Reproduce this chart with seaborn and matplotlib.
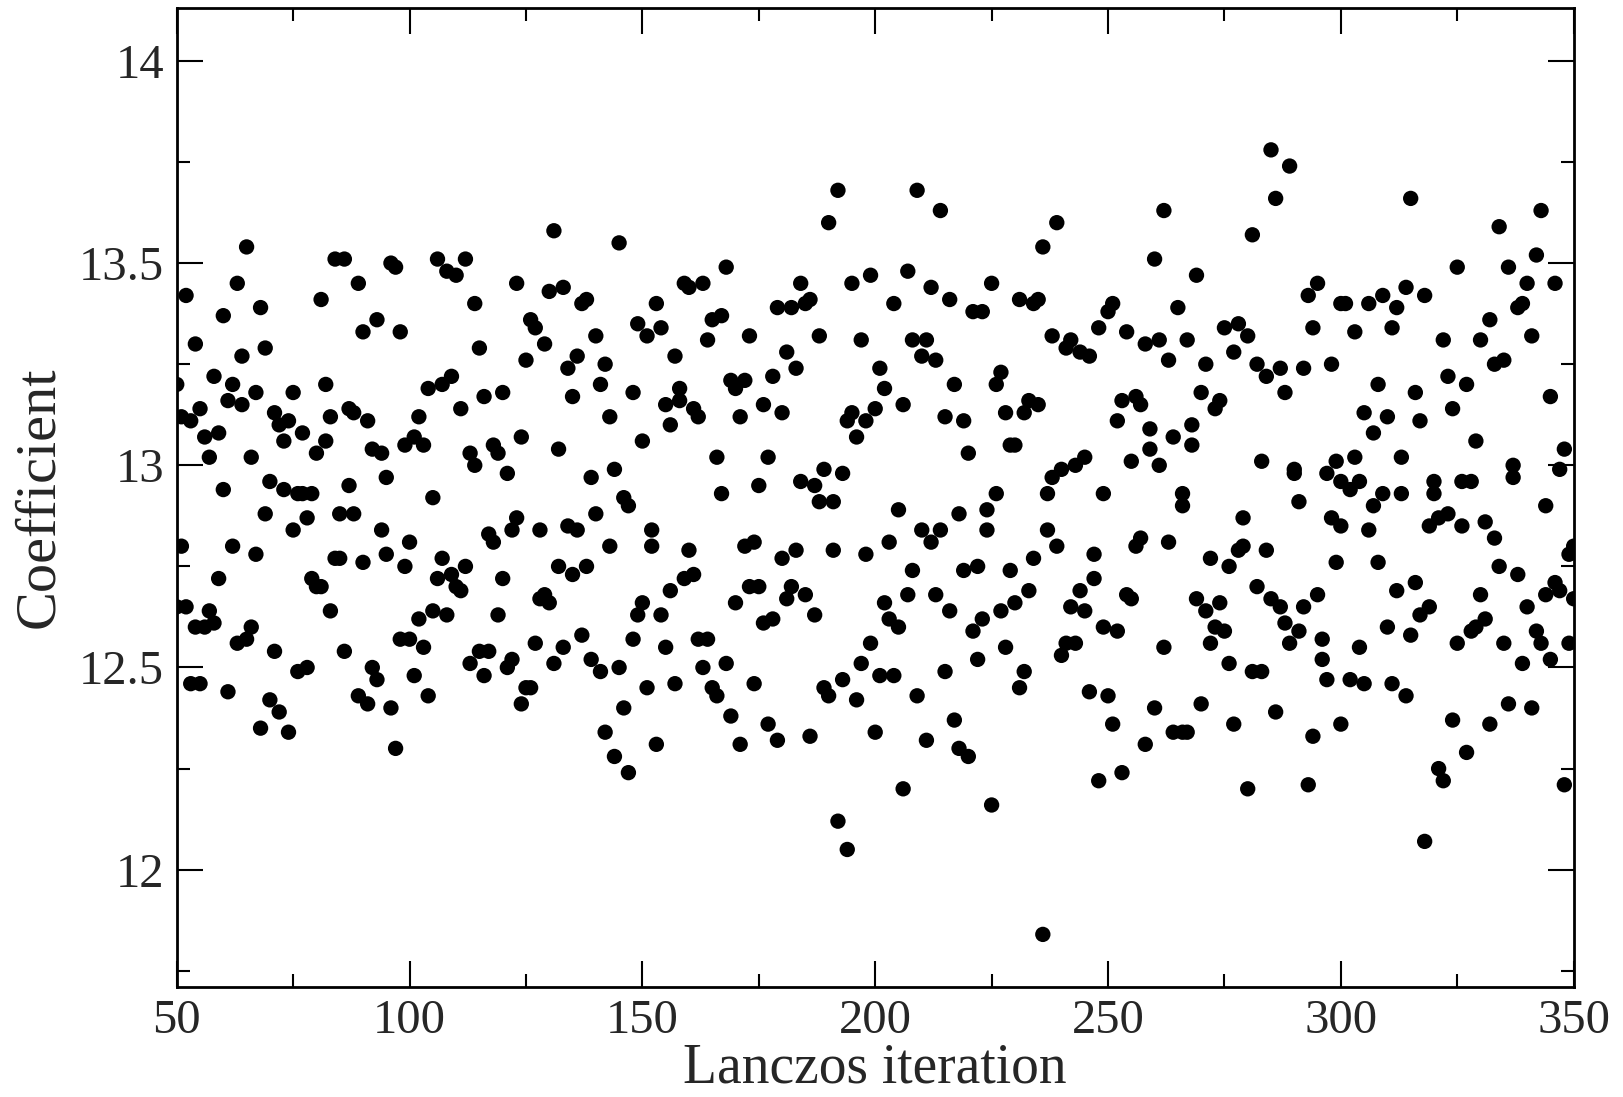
import matplotlib
matplotlib.use("Agg")
import matplotlib.pyplot as plt
from matplotlib.ticker import MultipleLocator
import seaborn as sns
import pandas as pd

# Lanczos iteration index of each point
iteration = [
    65, 63, 52, 60, 68, 54, 69, 64, 50, 58, 62, 75, 67, 61, 55, 64, 51, 53, 71, 72, 74, 73, 56, 59, 57, 66,
    70, 60, 73, 69, 75, 62, 51, 67, 59, 50, 52, 57, 54, 56, 58, 66, 63, 65, 71, 53, 55, 61, 70, 72, 68, 74,
    84, 86, 96, 97, 89, 81, 93, 90, 98, 82, 87, 88, 83, 91, 77, 82, 80, 92, 94, 99, 87, 95, 76, 77, 79, 78,
    85, 88, 94, 84, 85, 90, 95, 100, 99, 79, 80, 81, 83, 86, 98, 100, 76, 78, 92, 93, 89, 91, 96, 97,
    106, 108, 110, 112, 123, 114, 115, 125, 109, 104, 107, 116, 120, 111, 102, 101, 103, 113, 114, 118, 119,
    121, 124, 105, 107, 106, 109, 112, 110, 111, 117, 118, 122, 123, 120, 102, 105, 108, 119, 103, 101, 104,
    113, 115, 117, 116, 121, 122, 125, 124,
    131, 145, 130, 133, 137, 138, 126, 127, 129, 140, 134, 136, 142, 141, 135, 143, 149, 148, 132, 150, 139,
    144, 146, 147, 128, 134, 136, 140, 143, 132, 135, 138, 128, 129, 130, 150, 149, 127, 133, 131, 137, 139,
    141, 145, 148, 126, 146, 142, 144, 147,
    168, 159, 160, 163, 153, 151, 154, 165, 167, 164, 173, 157, 158, 158, 155, 156, 161, 162, 169, 170, 172,
    171, 166, 167, 175, 152, 152, 160, 159, 161, 172, 174, 156, 154, 173, 175, 170, 155, 162, 164, 163, 168,
    151, 157, 165, 166, 169, 174, 153, 171,
    192, 190, 195, 199, 184, 179, 182, 185, 186, 188, 197, 181, 183, 178, 176, 180, 194, 195, 198, 196, 200,
    177, 184, 187, 189, 188, 191, 193, 180, 183, 191, 198, 182, 181, 185, 187, 176, 178, 199, 197, 189, 190,
    193, 196, 177, 179, 186, 200, 192, 194,
    209, 214, 207, 212, 216, 204, 221, 223, 225, 208, 211, 210, 213, 201, 202, 217, 206, 215, 219, 220, 205,
    218, 224, 224, 210, 212, 214, 203, 208, 219, 222, 202, 207, 213, 216, 203, 205, 223, 221, 222, 201, 204,
    215, 209, 211, 217, 218, 220, 206, 225,
    239, 236, 231, 234, 235, 238, 241, 242, 244, 246, 248, 250, 227, 226, 233, 232, 235, 228, 229, 230, 226,
    238, 240, 243, 245, 237, 249, 229, 234, 237, 239, 247, 247, 227, 230, 233, 244, 242, 245, 249, 228, 232,
    231, 241, 243, 240, 246, 250, 248, 236,
    262, 260, 269, 251, 265, 254, 258, 261, 263, 267, 271, 275, 253, 256, 257, 252, 259, 259, 261, 255, 264,
    268, 268, 270, 273, 274, 266, 266, 256, 257, 263, 272, 254, 255, 252, 262, 269, 271, 274, 273, 275, 272,
    251, 260, 258, 264, 266, 267, 270, 253,
    285, 289, 286, 281, 295, 293, 300, 294, 278, 280, 277, 282, 284, 287, 292, 288, 298, 283, 290, 290, 291,
    297, 299, 300, 298, 300, 279, 278, 279, 276, 284, 299, 282, 285, 287, 288, 289, 292, 291, 295, 276, 296,
    296, 297, 281, 283, 277, 286, 294, 300, 280, 293,
    315, 325, 301, 306, 309, 312, 314, 318, 303, 311, 322, 308, 316, 323, 305, 310, 307, 317, 324, 303, 313,
    302, 304, 309, 307, 313, 320, 320, 319, 321, 323, 306, 308, 312, 316, 317, 319, 310, 315, 304, 325, 302,
    305, 311, 314, 324, 321, 322, 318,
    343, 334, 336, 342, 346, 340, 338, 339, 332, 341, 330, 333, 335, 327, 345, 329, 326, 328, 337, 337, 348,
    347, 344, 326, 331, 333, 334, 338, 349, 350, 330, 344, 346, 347, 350, 340, 328, 329, 331, 335, 342, 343,
    339, 345, 349, 336, 341, 332, 327, 348,
]

# Coefficient value of each point (same order)
coefficient = [
    13.54, 13.45, 13.42, 13.37, 13.39, 13.30, 13.29, 13.27, 13.20, 13.22, 13.20, 13.18, 13.18, 13.16, 13.14,
    13.15, 13.12, 13.11, 13.13, 13.10, 13.11, 13.06, 13.07, 13.08, 13.02, 13.02, 12.96, 12.94, 12.94, 12.88,
    12.84, 12.80, 12.80, 12.78, 12.72, 12.65, 12.65, 12.64, 12.60, 12.60, 12.61, 12.60, 12.56, 12.57, 12.54,
    12.46, 12.46, 12.44, 12.42, 12.39, 12.35, 12.34,
    13.51, 13.51, 13.50, 13.49, 13.45, 13.41, 13.36, 13.33, 13.33, 13.20, 13.14, 13.13, 13.12, 13.11, 13.08,
    13.06, 13.03, 13.04, 13.03, 13.05, 12.95, 12.97, 12.93, 12.93, 12.93, 12.87, 12.88, 12.88, 12.84, 12.77,
    12.77, 12.76, 12.78, 12.81, 12.75, 12.72, 12.70, 12.70, 12.64, 12.54, 12.57, 12.57, 12.49, 12.50, 12.50,
    12.47, 12.43, 12.41, 12.40, 12.30,
    13.51, 13.48, 13.47, 13.51, 13.45, 13.40, 13.29, 13.26, 13.22, 13.19, 13.20, 13.17, 13.18, 13.14, 13.12,
    13.07, 13.05, 13.03, 13.00, 13.05, 13.03, 12.98, 13.07, 12.92, 12.77, 12.72, 12.73, 12.75, 12.70, 12.69,
    12.83, 12.81, 12.84, 12.87, 12.72, 12.62, 12.64, 12.63, 12.63, 12.55, 12.48, 12.43, 12.51, 12.54, 12.54,
    12.48, 12.50, 12.52, 12.45, 12.41,
    13.58, 13.55, 13.43, 13.44, 13.40, 13.41, 13.36, 13.34, 13.30, 13.32, 13.24, 13.27, 13.25, 13.20, 13.17,
    13.12, 13.35, 13.18, 13.04, 13.06, 12.97, 12.99, 12.92, 12.90, 12.84, 12.85, 12.84, 12.88, 12.80, 12.75,
    12.73, 12.75, 12.67, 12.68, 12.66, 12.66, 12.63, 12.56, 12.55, 12.51, 12.58, 12.52, 12.49, 12.50, 12.57,
    12.45, 12.40, 12.34, 12.28, 12.24,
    13.49, 13.45, 13.44, 13.45, 13.40, 13.32, 13.34, 13.36, 13.37, 13.31, 13.32, 13.27, 13.19, 13.16, 13.15,
    13.10, 13.14, 13.12, 13.21, 13.19, 13.21, 13.12, 13.02, 12.93, 12.95, 12.84, 12.80, 12.79, 12.72, 12.73,
    12.80, 12.81, 12.69, 12.63, 12.70, 12.70, 12.66, 12.55, 12.57, 12.57, 12.50, 12.51, 12.45, 12.46, 12.45,
    12.43, 12.38, 12.46, 12.31, 12.31,
    13.68, 13.60, 13.45, 13.47, 13.45, 13.39, 13.39, 13.40, 13.41, 13.32, 13.31, 13.28, 13.24, 13.22, 13.15,
    13.13, 13.11, 13.13, 13.11, 13.07, 13.14, 13.02, 12.96, 12.95, 12.99, 12.91, 12.91, 12.98, 12.77, 12.79,
    12.79, 12.78, 12.70, 12.67, 12.68, 12.63, 12.61, 12.62, 12.56, 12.51, 12.45, 12.43, 12.47, 12.42, 12.36,
    12.32, 12.33, 12.34, 12.12, 12.05,
    13.68, 13.63, 13.48, 13.44, 13.41, 13.40, 13.38, 13.38, 13.45, 13.31, 13.31, 13.27, 13.26, 13.24, 13.19,
    13.20, 13.15, 13.12, 13.11, 13.03, 12.89, 12.88, 12.89, 12.84, 12.84, 12.81, 12.84, 12.81, 12.74, 12.74,
    12.75, 12.66, 12.68, 12.68, 12.64, 12.62, 12.60, 12.62, 12.59, 12.52, 12.48, 12.48, 12.49, 12.43, 12.32,
    12.37, 12.30, 12.28, 12.20, 12.16,
    13.60, 13.54, 13.41, 13.40, 13.41, 13.32, 13.29, 13.31, 13.28, 13.27, 13.34, 13.38, 13.23, 13.20, 13.16,
    13.13, 13.15, 13.13, 13.05, 13.05, 12.93, 12.97, 12.99, 13.00, 13.02, 12.93, 12.93, 12.74, 12.77, 12.84,
    12.80, 12.78, 12.72, 12.64, 12.66, 12.69, 12.69, 12.65, 12.64, 12.60, 12.55, 12.49, 12.45, 12.56, 12.56,
    12.53, 12.44, 12.43, 12.22, 11.84,
    13.63, 13.51, 13.47, 13.40, 13.39, 13.33, 13.30, 13.31, 13.26, 13.31, 13.25, 13.34, 13.16, 13.17, 13.15,
    13.11, 13.09, 13.04, 13.00, 13.01, 13.07, 13.10, 13.05, 13.18, 13.14, 13.16, 12.93, 12.90, 12.80, 12.82,
    12.81, 12.77, 12.68, 12.67, 12.59, 12.55, 12.67, 12.64, 12.66, 12.60, 12.59, 12.56, 12.36, 12.40, 12.31,
    12.34, 12.34, 12.34, 12.41, 12.24,
    13.78, 13.74, 13.66, 13.57, 13.45, 13.42, 13.40, 13.34, 13.35, 13.32, 13.28, 13.25, 13.22, 13.24, 13.24,
    13.18, 13.25, 13.01, 12.99, 12.98, 12.91, 12.98, 13.01, 12.96, 12.87, 12.85, 12.87, 12.79, 12.80, 12.75,
    12.79, 12.76, 12.70, 12.67, 12.65, 12.61, 12.56, 12.65, 12.59, 12.68, 12.51, 12.57, 12.52, 12.47, 12.49,
    12.49, 12.36, 12.39, 12.33, 12.36, 12.20, 12.21,
    13.66, 13.49, 13.40, 13.40, 13.42, 13.39, 13.44, 13.42, 13.33, 13.34, 13.31, 13.20, 13.18, 13.22, 13.13,
    13.12, 13.08, 13.11, 13.14, 13.02, 13.02, 12.94, 12.96, 12.93, 12.90, 12.93, 12.96, 12.93, 12.85, 12.87,
    12.88, 12.84, 12.76, 12.69, 12.71, 12.63, 12.65, 12.60, 12.58, 12.55, 12.56, 12.47, 12.46, 12.46, 12.43,
    12.37, 12.25, 12.22, 12.07,
    13.63, 13.59, 13.49, 13.52, 13.45, 13.45, 13.39, 13.40, 13.36, 13.32, 13.31, 13.25, 13.26, 13.20, 13.17,
    13.06, 12.96, 12.96, 13.00, 12.97, 13.04, 12.99, 12.90, 12.85, 12.86, 12.82, 12.75, 12.73, 12.78, 12.80,
    12.68, 12.68, 12.71, 12.69, 12.67, 12.65, 12.59, 12.60, 12.62, 12.56, 12.59, 12.56, 12.51, 12.52, 12.56,
    12.41, 12.40, 12.36, 12.29, 12.21,
]

x_ticks = [50, 100, 150, 200, 250, 300, 350]
y_ticks = [12, 12.5, 13, 13.5, 14]
y_tick_labels = ["12", "12.5", "13", "13.5", "14"]

df = pd.DataFrame({"iteration": iteration, "coefficient": coefficient})

sns.set_style("ticks")
plt.rcParams["font.family"] = ["Liberation Serif", "DejaVu Serif"]

fig = plt.figure(figsize=(16.23, 10.97), dpi=100)
ax = fig.add_axes([0.1089, 0.1003, 0.8607, 0.8921])

sns.scatterplot(data=df, x="iteration", y="coefficient", ax=ax,
                color="black", s=122, linewidth=0, edgecolor="none")

ax.set_xlim(50, 350)
ax.set_ylim(11.71, 14.13)
ax.set_xticks(x_ticks)
ax.set_xticklabels([str(t) for t in x_ticks])
ax.set_yticks(y_ticks)
ax.set_yticklabels(y_tick_labels)
ax.xaxis.set_minor_locator(MultipleLocator(25))
ax.yaxis.set_minor_locator(MultipleLocator(0.25))

ax.tick_params(which="both", direction="in", top=True, right=True,
               width=1.5, color="black", labelsize=35, pad=9)
ax.tick_params(which="major", length=19)
ax.tick_params(which="minor", length=9.5)

for sp in ax.spines.values():
    sp.set_visible(True)
    sp.set_linewidth(2.0)
    sp.set_color("black")

ax.set_xlabel("Lanczos iteration", fontsize=40, labelpad=-1)
ax.set_ylabel("Coefficient", fontsize=42, labelpad=10)

fig.savefig("out.png", dpi=100)
